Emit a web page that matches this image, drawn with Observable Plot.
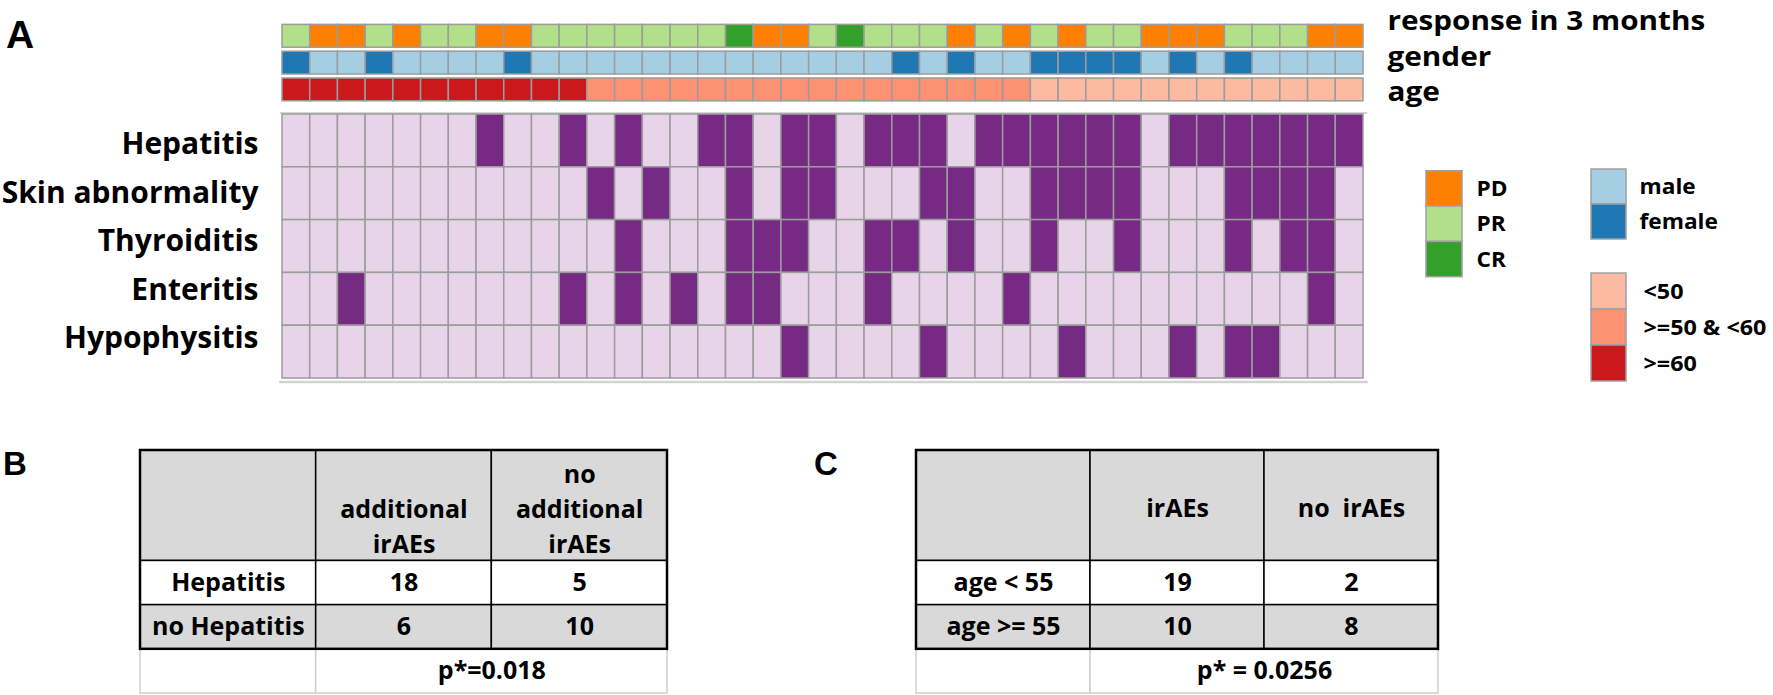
<!DOCTYPE html>
<html>
<head>
<meta charset="utf-8">
<script src="https://cdn.jsdelivr.net/npm/d3@7"></script>
<script src="https://cdn.jsdelivr.net/npm/@observablehq/plot@0.6"></script>
<style>
html, body { margin: 0; padding: 0; background: #fff; }
#root { position: relative; width: 1773px; height: 695px; overflow: hidden; font-family: "Open Sans", sans-serif; }
#root svg { position: absolute; left: 0; top: 0; overflow: visible; }
#root svg text { white-space: pre; }
.panel { position: absolute; font-family: "Liberation Sans", Arial, sans-serif; font-weight: bold; line-height: 1; color: #000; }
</style>
</head>
<body>
<div id="root"></div>
<script>
// ---------- data ----------
const response = ["PR","PD","PD","PR","PD","PR","PR","PD","PD","PR",
                  "PR","PR","PR","PR","PR","PR","CR","PD","PD","PR",
                  "CR","PR","PR","PR","PD","PR","PD","PR","PD","PR",
                  "PR","PD","PD","PD","PR","PR","PR","PD","PD"];
const gender = ["female","male","male","female","male","male","male","male","female","male",
                "male","male","male","male","male","male","male","male","male","male",
                "male","male","female","male","female","male","male","female","female","female",
                "female","male","female","male","female","male","male","male","male"];
const ageGroup = [">=60",">=60",">=60",">=60",">=60",">=60",">=60",">=60",">=60",">=60",
                  ">=60",">=50 & <60",">=50 & <60",">=50 & <60",">=50 & <60",">=50 & <60",">=50 & <60",">=50 & <60",">=50 & <60",">=50 & <60",
                  ">=50 & <60",">=50 & <60",">=50 & <60",">=50 & <60",">=50 & <60",">=50 & <60",">=50 & <60","<50","<50","<50",
                  "<50","<50","<50","<50","<50","<50","<50","<50","<50"];

const aeNames = ["Hepatitis","Skin abnormality","Thyroiditis","Enteritis","Hypophysitis"];
const hepatitis    = [0,0,0,0,0,0,0,1,0,0, 1,0,1,0,0,1,1,0,1,1, 0,1,1,1,0,1,1,1,1,1, 1,0,1,1,1,1,1,1,1];
const skin         = [0,0,0,0,0,0,0,0,0,0, 0,1,0,1,0,0,1,0,1,1, 0,0,0,1,1,0,0,1,1,1, 1,0,0,0,1,1,1,1,0];
const thyroiditis  = [0,0,0,0,0,0,0,0,0,0, 0,0,1,0,0,0,1,1,1,0, 0,1,1,0,1,0,0,1,0,0, 1,0,0,0,1,0,1,1,0];
const enteritis    = [0,0,1,0,0,0,0,0,0,0, 1,0,1,0,1,0,1,1,0,0, 0,1,0,0,0,0,1,0,0,0, 0,0,0,0,0,0,0,1,0];
const hypophysitis = [0,0,0,0,0,0,0,0,0,0, 0,0,0,0,0,0,0,0,1,0, 0,0,0,1,0,0,0,0,1,0, 0,0,1,0,1,1,0,0,0];

const trackKeys = ["response","gender","age"];
const trackLabels = ["response in 3 months","gender","age"];

const responseLevels = ["PD","PR","CR"];
const responseColors = ["#ff7f00","#b2df8a","#33a02c"];
const genderLevels = ["male","female"];
const genderColors = ["#a6cee3","#1f78b4"];
const ageLevels = ["<50",">=50 & <60",">=60"];
const ageColors = ["#fcbba1","#fc9272","#cb181d"];
const aeColors = ["#e7d4e8","#762a83"];

// tables
const tableBHeader = ["", "additional\nirAEs", "no\nadditional\nirAEs"];
const tableBRows = ["Hepatitis", "no Hepatitis"];
const tableBValues = [[18, 5], [6, 10]];
const tableBP = "p*=0.018";
const tableCHeader = ["", "irAEs", "no  irAEs"];
const tableCRows = ["age < 55", "age >= 55"];
const tableCValues = [[19, 2], [10, 8]];
const tableCP = "p* = 0.0256";

// ---------- drawing ----------
const W = 1773;
const FONT = "Open Sans";
const root = document.getElementById("root");
const add = (el) => { root.appendChild(el); return el; };
const base = {width: W, height: 695, margin: 0, style: {background: "none", overflow: "visible"}};
const patients = d3.range(response.length);
const xPatients = {type: "band", domain: patients, range: [282, 1363], padding: 0, round: false, axis: null};

// widen glyphs horizontally (the reference lettering is stretched)
function stretch(svg, factor) {
  svg.querySelectorAll("text").forEach(t => {
    const L = t.getComputedTextLength();
    if (L > 0) {
      t.setAttribute("textLength", (L * factor).toFixed(1));
      t.setAttribute("lengthAdjust", "spacingAndGlyphs");
    }
  });
}

const colorOf = {
  response: v => responseColors[responseLevels.indexOf(v)],
  gender: v => genderColors[genderLevels.indexOf(v)],
  age: v => ageColors[ageLevels.indexOf(v)]
};
const trackValues = {response, gender, age: ageGroup};
const trackCells = trackKeys.flatMap(k => patients.map(i => ({i, track: k, value: trackValues[k][i]})));

// annotation tracks
add(Plot.plot({
  ...base, height: 110,
  x: xPatients,
  y: {type: "band", domain: trackKeys, range: [22.4, 102.8], padding: 0, round: false, axis: null},
  color: {type: "identity"},
  marks: [
    Plot.cell(trackCells, {x: "i", y: "track", fill: d => colorOf[d.track](d.value),
      stroke: "#9c9c9c", strokeWidth: 1.5, insetTop: 2, insetBottom: 2})
  ]
}));

// heatmap
const aeValues = [hepatitis, skin, thyroiditis, enteritis, hypophysitis];
const aeCells = aeNames.flatMap((n, j) => patients.map(i => ({i, ae: n, v: aeValues[j][i]})));
add(Plot.plot({
  ...base, height: 400, marginTop: 112.5, marginBottom: 400 - 381.5, marginLeft: 280, marginRight: W - 1366,
  x: xPatients,
  y: {type: "band", domain: aeNames, range: [114, 378], padding: 0, round: false, axis: null},
  color: {type: "identity"},
  marks: [
    Plot.frame({anchor: "top", stroke: "#c8c8c8", strokeWidth: 1.5}),
    Plot.frame({anchor: "bottom", stroke: "#d2d2d2", strokeWidth: 2.5}),
    Plot.cell(aeCells, {x: "i", y: "ae", fill: d => aeColors[d.v], stroke: "#9c9c9c", strokeWidth: 1.5})
  ]
}));

// row labels (left)
add(Plot.plot({
  ...base, height: 400, marginRight: W - 258,
  y: {type: "point", domain: aeNames, range: [144, 338], padding: 0, round: false, axis: null},
  marks: [
    Plot.text(aeNames, {y: d => d, text: d => d, frameAnchor: "right", textAnchor: "end",
      fontSize: 30, fontWeight: "bold", fontFamily: FONT, fill: "#000"})
  ]
}));

// track labels (right)
const trackSvg = add(Plot.plot({
  ...base, height: 110, marginLeft: 1387,
  y: {type: "point", domain: trackLabels, range: [21, 92], padding: 0, round: false, axis: null},
  marks: [
    Plot.text(trackLabels, {y: d => d, text: d => d, frameAnchor: "left", textAnchor: "start",
      fontSize: 27, fontWeight: "bold", fontFamily: FONT, fill: "#000"})
  ]
}));
stretch(trackSvg, 1.1);

// legends
function legend(levels, colors, xr, yr, labelX) {
  return Plot.plot({
    ...base, height: 400, marginLeft: labelX,
    x: {type: "band", domain: ["key"], range: xr, padding: 0, round: false, axis: null},
    y: {type: "band", domain: levels, range: yr, padding: 0, round: false, axis: null},
    color: {type: "identity"},
    marks: [
      Plot.cell(levels, {x: () => "key", y: d => d, fill: (d, i) => colors[i], stroke: "#a0a0a0", strokeWidth: 1.5}),
      Plot.text(levels, {y: d => d, text: d => d, frameAnchor: "left", textAnchor: "start",
        fontSize: 22, fontWeight: "bold", fontFamily: FONT, fill: "#000"})
    ]
  });
}
stretch(add(legend(responseLevels, responseColors, [1426, 1462], [170.7, 276.7], 1476)), 1.03);
stretch(add(legend(genderLevels, genderColors, [1591, 1626], [169, 239], 1639)), 1.03);
stretch(add(legend(ageLevels, ageColors, [1591, 1626], [273, 381], 1643)), 1.06);

// 2x2 tables
function table(header, rowLabels, values, pText, xr, headerBottom) {
  const grey = "#d9d9d9";
  const cells = [];
  header.forEach((h, c) => cells.push({x1: c, x2: c + 1, y1: 0, y2: 2.5, fill: grey}));
  rowLabels.forEach((r, ri) => [0, 1, 2].forEach(c =>
    cells.push({x1: c, x2: c + 1, y1: 2.5 + ri, y2: 3.5 + ri, fill: ri === 0 ? "white" : grey})));
  const pCells = [{x1: 0, x2: 1, y1: 4.5, y2: 5.5}, {x1: 1, x2: 3, y1: 4.5, y2: 5.5}];
  const body = [];
  rowLabels.forEach((r, ri) => {
    body.push({x: 0.5, y: 3 + ri, t: r});
    values[ri].forEach((v, c) => body.push({x: c + 1.5, y: 3 + ri, t: String(v)}));
  });
  const heads = header.map((h, c) => ({x: c + 0.5, t: h}));
  const txt = {fontSize: 25, fontWeight: "bold", fontFamily: FONT, fill: "#000"};
  return Plot.plot({
    ...base,
    x: {type: "linear", domain: [0, 3], range: xr, axis: null},
    y: {type: "linear", domain: [0, 5.5], range: [450, 693], axis: null},
    color: {type: "identity"},
    marks: [
      Plot.rect(pCells, {x1: "x1", x2: "x2", y1: "y1", y2: "y2", fill: "white", stroke: "#cfcfcf", strokeWidth: 1.5}),
      Plot.rect(cells, {x1: "x1", x2: "x2", y1: "y1", y2: "y2", fill: "fill", stroke: "#000", strokeWidth: 1.5}),
      Plot.rect([{x1: 0, x2: 3, y1: 0, y2: 4.5}], {x1: "x1", x2: "x2", y1: "y1", y2: "y2", fill: "none", stroke: "#000", strokeWidth: 2.5}),
      Plot.text(heads, {x: "x", y: () => headerBottom ? 2.5 : 1.25, text: "t", lineAnchor: headerBottom ? "bottom" : "middle",
        dy: headerBottom ? -8 : 0, lineHeight: 1.4, ...txt}),
      Plot.text(body, {x: "x", y: "y", text: "t", lineAnchor: "middle", ...txt}),
      Plot.text([pText], {x: () => 2, y: () => 5, text: d => d, lineAnchor: "middle", ...txt})
    ]
  });
}
add(table(tableBHeader, tableBRows, tableBValues, tableBP, [140, 667], true));
add(table(tableCHeader, tableCRows, tableCValues, tableCP, [916, 1438], false));

// panel letters
function letter(t, left, top, size) {
  const d = document.createElement("div");
  d.className = "panel";
  d.textContent = t;
  d.style.left = left + "px";
  d.style.top = top + "px";
  d.style.fontSize = size + "px";
  root.appendChild(d);
}
letter("A", 6, 15, 39);
letter("B", 3, 447, 33);
letter("C", 814, 447, 33);
</script>
</body>
</html>
